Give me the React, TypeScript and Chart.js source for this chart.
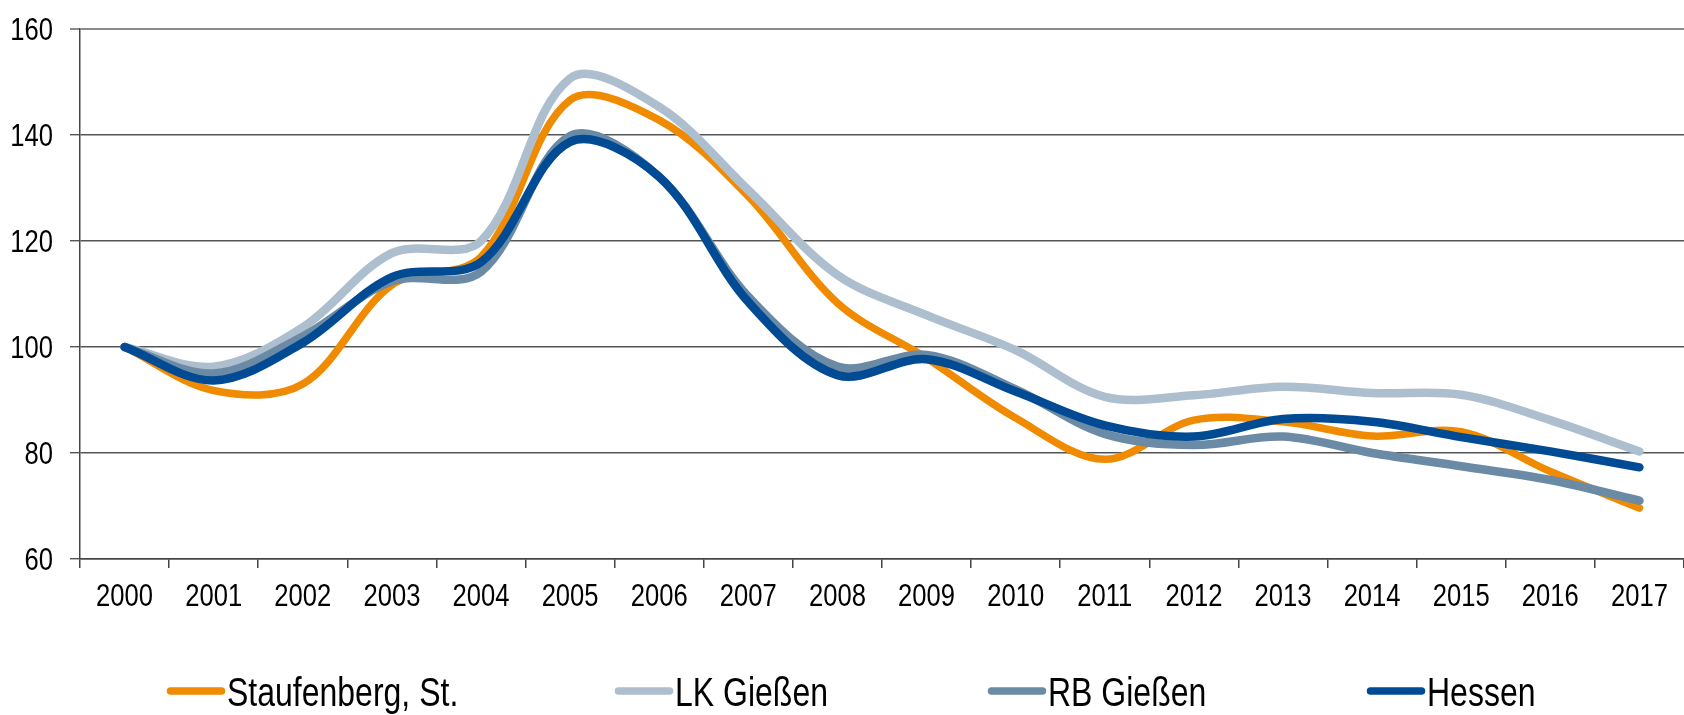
import React, { useEffect, useRef } from "react";
import { Chart, registerables } from "chart.js";

Chart.register(...registerables);

const years = ["2000","2001","2002","2003","2004","2005","2006","2007","2008","2009","2010","2011","2012","2013","2014","2015","2016","2017"];
const seriesNames = ["Staufenberg, St.", "LK Gießen", "RB Gießen", "Hessen"];
const staufenberg = [100, 91.8, 93, 111.7, 117, 146.6, 142.8, 128.4, 108.3, 97.9, 86.6, 78.8, 86.2, 85.9, 83.2, 84, 76.5, 69.6];
const lkGiessen = [100, 96.3, 103.7, 117.7, 120, 150.7, 145.3, 129.6, 113.6, 106, 99.4, 90.6, 90.9, 92.5, 91.3, 91, 86.2, 80.3];
const rbGiessen = [100, 95, 102, 112.4, 114.2, 139.8, 132.1, 109.5, 96.3, 98.5, 92, 83.6, 81.5, 83.1, 80, 77.5, 74.9, 71];
const hessen = [100, 93.7, 100.8, 113.2, 116, 138.7, 132.1, 108.5, 94.7, 97.7, 91.6, 85.2, 83.1, 86.4, 85.9, 83, 80.3, 77.3];
const yTicks = [60, 80, 100, 120, 140, 160];

const colors = ["#F08A00", "#ADBFCE", "#6A8AA5", "#004B93"];
const FONT = '"Liberation Sans", Arial, sans-serif';
const SQ = 0.8; // horizontal condensing to mimic a narrow face
const legendX = [167, 615, 988, 1367];

function narrowText(ctx: any, text: string, x: number, y: number, size: number, align: string) {
  ctx.save();
  ctx.font = `${size}px ${FONT}`;
  ctx.fillStyle = "#000";
  ctx.textAlign = align;
  ctx.textBaseline = "alphabetic";
  ctx.scale(SQ, 1);
  ctx.fillText(text, x / SQ, y);
  ctx.restore();
}

const textPlugin = {
  id: "narrowText",
  afterDraw(chart: any) {
    const ctx = chart.ctx;
    const xs = chart.scales.x;
    const ys = chart.scales.y;
    ys.ticks.forEach((t: any) => {
      const py = ys.getPixelForValue(t.value);
      narrowText(ctx, String(t.value), 53, py + 11.4, 32, "right");
    });
    xs.ticks.forEach((t: any, i: number) => {
      const px = xs.getPixelForTick(i);
      narrowText(ctx, xs.getLabelForValue(t.value), px, 606, 32, "center");
    });
    const y = 691;
    chart.data.datasets.forEach((ds: any, i: number) => {
      const x = legendX[i];
      ctx.save();
      ctx.strokeStyle = ds.borderColor;
      ctx.lineWidth = 7.5;
      ctx.lineCap = "round";
      ctx.beginPath();
      ctx.moveTo(x + 3.5, y);
      ctx.lineTo(x + 54.5, y);
      ctx.stroke();
      ctx.restore();
      narrowText(ctx, ds.label, x + 60, 705.5, 40, "left");
    });
  },
};

export default function App() {
  const ref = useRef<HTMLCanvasElement | null>(null);
  useEffect(() => {
    if (!ref.current) return;
    const data = [staufenberg, lkGiessen, rbGiessen, hessen];
    const chart = new Chart(ref.current, {
      type: "line",
      data: {
        labels: years,
        datasets: data.map((d, i) => ({
          label: seriesNames[i],
          data: d,
          borderColor: colors[i],
          backgroundColor: colors[i],
          borderWidth: i === 0 ? 7.5 : 8.5,
          pointRadius: 0,
          tension: 0.34,
          borderCapStyle: "round" as const,
          borderJoinStyle: "round" as const,
          order: 3 - i,
          fill: false,
        })),
      },
      options: {
        animation: false,
        responsive: true,
        maintainAspectRatio: false,
        layout: { padding: { top: 29, right: 0, bottom: 80, left: 0 } },
        plugins: { legend: { display: false }, tooltip: { enabled: false } },
        scales: {
          x: {
            type: "category",
            offset: true,
            grid: {
              display: true,
              drawOnChartArea: false,
              drawTicks: true,
              tickLength: 9,
              offset: true,
              color: "#444",
              lineWidth: 1.5,
            },
            border: { display: true, color: "#444", width: 1.5 },
            ticks: { display: false, autoSkip: false, maxRotation: 0 },
            afterFit: (s: any) => { s.height = 715 - 80 - 559; },
          },
          y: {
            min: 60,
            max: 160,
            afterBuildTicks: (s: any) => { s.ticks = yTicks.map((v) => ({ value: v })); },
            grid: {
              color: (c: any) => (c.tick && c.tick.value === 160 ? "#8a8a8a" : "#555"),
              lineWidth: (c: any) => (c.tick && c.tick.value === 160 ? 2 : 1.4),
              tickLength: 10,
              drawTicks: true,
            },
            border: { display: true, color: "#444", width: 1.5 },
            ticks: { display: false },
            afterFit: (s: any) => { s.width = 80; },
          },
        },
      },
      plugins: [textPlugin],
    });
    return () => chart.destroy();
  }, []);
  return (
    <div style={{ position: "fixed", left: 0, top: 0, width: 1684, height: 715, background: "#fff" }}>
      <canvas ref={ref} />
    </div>
  );
}
